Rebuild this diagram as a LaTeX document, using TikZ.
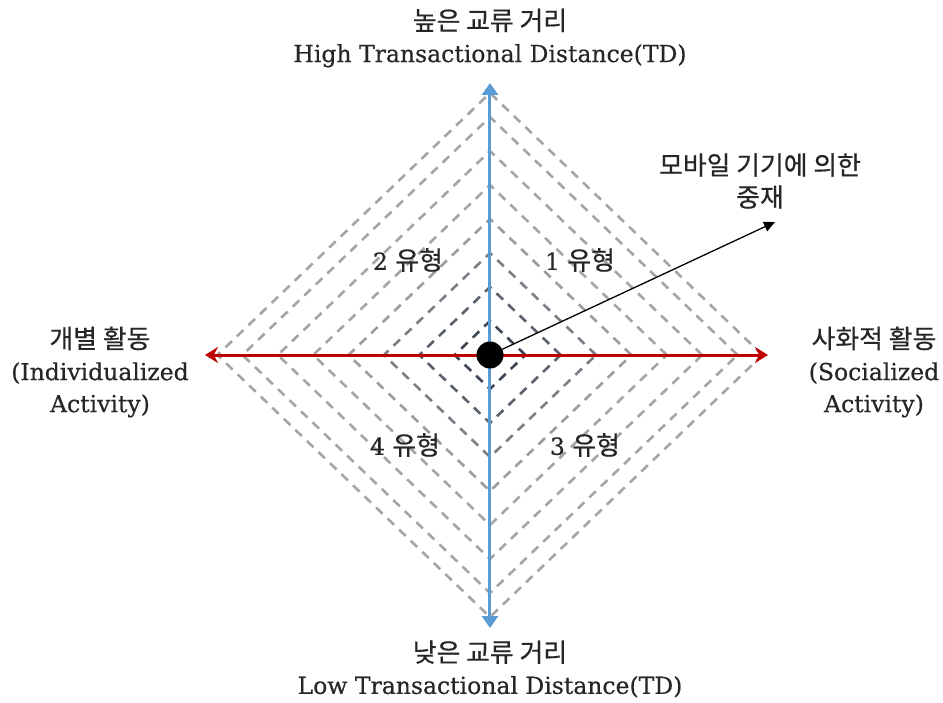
\documentclass[tikz,border=0pt]{standalone}
\usepackage{fontspec}
\setmainfont{DejaVu Serif}[FakeBold=0.4]
\newfontfamily\kr{Noto Sans CJK KR}[Scale=1.1, FakeBold=0.6]
\usepackage{xcolor}
\usetikzlibrary{arrows.meta, positioning, calc}

\definecolor{axisblue}{RGB}{91,155,213}
\definecolor{axisred}{RGB}{192,0,0}
\definecolor{ringdark}{RGB}{60,70,85}
\definecolor{ringlight}{RGB}{165,165,165}

\begin{document}
\begin{tikzpicture}[x=1pt, y=1pt,
    lbl/.style={font=\fontsize{23.5}{32}\selectfont, align=center, text=black!85},
    typelbl/.style={font=\fontsize{23.5}{26}\selectfont, text=black!85},
    ring/.style={line width=2.6pt, dash pattern=on 9pt off 7pt},
    axis/.style={line width=3pt}]

% Fix the page size (reference is 943 x 702)
\useasboundingbox (-490,-347) rectangle (453,355);

% Nested dashed diamonds, darker towards the centre
\foreach \r [count=\i] in {34,68,102,136,170,204,238,262}{
    \pgfmathsetmacro{\mix}{min(100,(\i-1)*30)}
    \draw[ring, ringlight!\mix!ringdark]
        (1.04*\r,0) -- (0,\r) -- (-1.04*\r,0) -- (0,-\r) -- cycle;
}

% Axis end points
\coordinate (high) at (0,272);
\coordinate (low) at (0,-273);
\coordinate (indiv) at (-285,0);
\coordinate (social) at (278,0);

% Axes
\draw[axis, axisblue, {Triangle[width=16pt,length=12pt]}-{Triangle[width=16pt,length=12pt]}] (low) -- (high);
\draw[axis, axisred, {Stealth[width=16pt,length=13pt]}-{Stealth[width=16pt,length=13pt]}] (indiv) -- (social);

% Centre point and mediation arrow
\node[circle, fill=black, minimum size=27pt, inner sep=0pt] (origin) at (0,0) {};
\coordinate (medtip) at (285,133);
\draw[line width=1.3pt, -{Triangle[width=10pt,length=11pt]}] (origin) -- (medtip);

% Axis labels
\node[lbl] (highlbl) at (0,317) {{\kr 높은 교류 거리}\\High Transactional Distance(TD)};
\node[lbl] (lowlbl) at (0,-314) {{\kr 낮은 교류 거리}\\Low Transactional Distance(TD)};
\node[lbl] (indivlbl) at (-390,-17) {{\kr 개별 활동}\\(Individualized\\Activity)};
\node[lbl] (sociallbl) at (384,-17) {{\kr 사화적 활동}\\(Socialized\\Activity)};
\node[lbl] (medlbl) at (270,174) {{\kr 모바일 기기에 의한}\\{\kr 중재}};

% Quadrant labels
\node[typelbl] (type2) at (-82,95) {2 {\kr 유형}};
\node[typelbl] (type1) at (90,95) {1 {\kr 유형}};
\node[typelbl] (type4) at (-85,-90) {4 {\kr 유형}};
\node[typelbl] (type3) at (95,-90) {3 {\kr 유형}};

\end{tikzpicture}
\end{document}
